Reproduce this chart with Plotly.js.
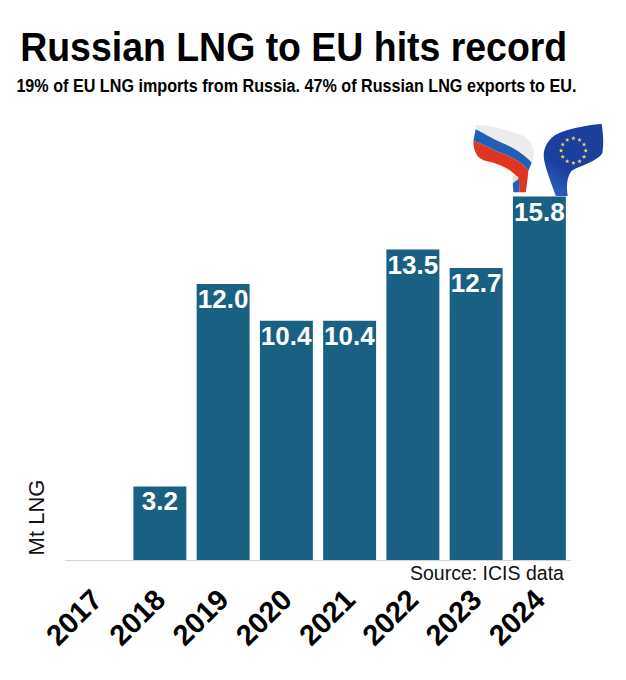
<!DOCTYPE html>
<html><head><meta charset="utf-8">
<script src="https://cdn.plot.ly/plotly-3.0.1.min.js"></script>
<style>html,body{margin:0;padding:0;background:#fff}</style></head>
<body><div id="chart" style="width:626px;height:680px"></div>
<script>
const years = ['2017','2018','2019','2020','2021','2022','2023','2024'];
const volumes = [null,3.2,12.0,10.4,10.4,13.5,12.7,15.8];
const labels = ['','3.2','12.0','10.4','10.4','13.5','12.7','15.8'];
const titleText = 'Russian LNG to EU hits record';
const subtitleText = '19% of EU LNG imports from Russia. 47% of Russian LNG exports to EU.';
const sourceText = 'Source: ICIS data';
const unitText = 'Mt LNG';

const W = 626, H = 680;
const L = 64.6, R = 570.6, T = 100, B = 560;
const px = v => (v - L) / (R - L), py = v => (B - v) / (B - T);

function starPath(cx, cy, r) {
  let d = '';
  for (let i = 0; i < 10; i++) {
    const a = -Math.PI / 2 + i * Math.PI / 5, q = i % 2 ? r * 0.42 : r;
    d += (i ? 'L' : 'M') + (cx + q * Math.cos(a)).toFixed(1) + ' ' + (cy + q * Math.sin(a)).toFixed(1);
  }
  return d + 'Z';
}
let stars = '';
for (let i = 0; i < 12; i++) {
  const a = i * Math.PI / 6;
  stars += `<path d="${starPath(105 + 37 * Math.cos(a), 92 + 37 * Math.sin(a), 7)}" fill="#ecd863"/>`;
}
const ruSvg = `<svg xmlns="http://www.w3.org/2000/svg" width="74" height="78" viewBox="0 0 222 234">
<path d="M22 15 C60 14 110 28 150 42 C180 52 198 70 197 108 L190 128 C170 105 135 82 100 68 C70 56 40 36 22 28 Z" fill="#ececec"/>
<path d="M22 28 C40 36 70 56 100 68 C135 82 170 105 190 128 L180 152 C160 125 125 108 100 100 C70 88 40 70 15 62 Z" fill="#1f5fb4"/>
<path d="M15 62 C40 70 70 88 100 100 C125 108 160 125 180 152 C178 175 175 195 172 217 L152 217 C158 195 150 170 135 160 C115 140 80 128 50 122 C30 116 15 100 15 62 Z" fill="#e0341f"/>
<path d="M133 165 L150 170 L148 185 L133 190 Z" fill="#dddddd"/>
<path d="M133 190 L150 178 C156 190 155 205 152 217 L135 217 Z" fill="#2a5cb0"/>
</svg>`;
const euSvg = `<svg xmlns="http://www.w3.org/2000/svg" width="74" height="78" viewBox="0 0 222 234">
<defs><linearGradient id="eu" x1="0.7" y1="0.1" x2="0.2" y2="1"><stop offset="0" stop-color="#1c3f9c"/><stop offset="0.6" stop-color="#1b3f9e"/><stop offset="1" stop-color="#2f62bd"/></linearGradient></defs>
<path d="M190 12 C160 14 110 22 70 36 C40 46 20 70 16 100 C14 130 32 170 52 228 L88 228 C84 200 84 172 100 152 C125 138 175 125 192 100 C197 70 194 40 190 12 Z" fill="url(#eu)"/>
${stars}
</svg>`;
const uri = s => 'data:image/svg+xml;charset=utf-8,' + encodeURIComponent(s);

const trace = {
  type: 'bar', x: years, y: volumes, text: labels,
  marker: {color: '#1a6082', line: {width: 0}},
  textposition: 'inside', insidetextanchor: 'end', constraintext: 'none',
  textangle: 0, cliponaxis: false, hoverinfo: 'skip',
  textfont: {family: '"Liberation Sans", Arial, sans-serif', size: 26, color: '#fff', weight: 700}
};
const layout = {
  width: W, height: H, showlegend: false,
  paper_bgcolor: '#fff', plot_bgcolor: '#fff',
  margin: {l: L, r: W - R, t: T, b: H - B, pad: 0},
  bargap: 0.163,
  font: {family: '"Liberation Sans", Arial, sans-serif', color: '#000'},
  xaxis: {type: 'category', categoryorder: 'array', categoryarray: years, automargin: false,
    tickangle: -45, ticks: '', showgrid: false, zeroline: false, ticklabelstandoff: 9,
    showline: true, linecolor: '#d4d4d4', linewidth: 1,
    tickfont: {family: '"Liberation Sans", Arial, sans-serif', size: 29, color: '#000', weight: 700}},
  yaxis: {range: [0, 20], visible: false, fixedrange: true, automargin: false},
  annotations: [
    {text: '<b>' + titleText + '</b>', xref: 'paper', yref: 'paper', xanchor: 'center', yanchor: 'middle', x: px(313), y: py(46),
     showarrow: false, font: {family: '"Liberation Sans", sans-serif', size: 41.5, color: '#000'}},
    {text: '<b>' + subtitleText + '</b>', xref: 'paper', yref: 'paper', xanchor: 'center', yanchor: 'middle', x: px(296), y: py(86),
     showarrow: false, font: {family: '"Liberation Sans", sans-serif', size: 17.5, color: '#000'}},
    {text: sourceText, xref: 'paper', yref: 'paper', xanchor: 'right', yanchor: 'middle', x: px(566), y: py(573),
     showarrow: false, font: {size: 19.5, color: '#111'}},
    {text: unitText, xref: 'paper', yref: 'paper', xanchor: 'center', yanchor: 'middle', x: px(36), y: py(517),
     textangle: -90, showarrow: false, font: {size: 22, color: '#111'}}
  ],
  images: [
    {source: uri(ruSvg), xref: 'paper', yref: 'paper', x: px(468), y: py(120), sizex: 74/(R-L), sizey: 78/(B-T), xanchor: 'left', yanchor: 'top', sizing: 'stretch', layer: 'above'},
    {source: uri(euSvg), xref: 'paper', yref: 'paper', x: px(538), y: py(120), sizex: 74/(R-L), sizey: 78/(B-T), xanchor: 'left', yanchor: 'top', sizing: 'stretch', layer: 'above'}
  ]
};
Plotly.newPlot('chart', [trace], layout, {staticPlot: true, displayModeBar: false}).then(gd => {
  // The reference uses a condensed face: squeeze the two headline texts to its measured widths.
  const fit = {0: {width: 547, dx: -19.5}, 1: {width: 560, dx: 0}};
  gd.querySelectorAll('.annotation').forEach(a => {
    const f = fit[a.getAttribute('data-index')];
    if (f) {
      const t = a.querySelector('text');
      t.setAttribute('textLength', f.width);
      t.setAttribute('lengthAdjust', 'spacingAndGlyphs');
      t.setAttribute('x', parseFloat(t.getAttribute('x') || 0) + f.dx);
    }
  });
  gd.querySelectorAll('.bars .bartext').forEach(t => {
    t.setAttribute('transform', 'translate(0,-3) ' + (t.getAttribute('transform') || ''));
  });
  gd.querySelectorAll('.xtick text').forEach(t => {
    t.setAttribute('transform', 'translate(-3,1) ' + (t.getAttribute('transform') || ''));
  });
});
</script></body></html>
